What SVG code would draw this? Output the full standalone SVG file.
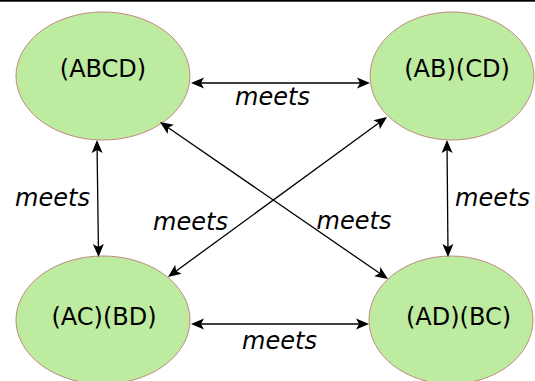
<svg xmlns="http://www.w3.org/2000/svg" width="535" height="381" viewBox="0 0 535 381">
  <defs>
    <marker id="arrow" markerUnits="userSpaceOnUse" markerWidth="16" markerHeight="12" viewBox="0 -6 16 12" refX="10" refY="0" orient="auto-start-reverse">
      <path d="M0,-5.5 L13,0 L0,5.5 L3,0 Z" fill="#000"/>
    </marker>
  </defs>
  <style>
    .node ellipse { fill: #bdeba0; stroke: #c08a80; stroke-width: 1; }
    .node text { font-family: "DejaVu Sans", sans-serif; font-size: 24px; fill: #000; text-anchor: middle; }
    .edges line { stroke: #000; stroke-width: 1.3; marker-start: url(#arrow); marker-end: url(#arrow); }
    .label { font-family: "DejaVu Sans", sans-serif; font-size: 24px; font-style: italic; fill: #000; text-anchor: middle; }
  </style>
  <rect x="0" y="0" width="535" height="1.7" fill="#000"/>

  <g id="node-abcd" class="node">
    <ellipse cx="103" cy="76" rx="87" ry="64"/>
    <text x="103" y="77">(ABCD)</text>
  </g>
  <g id="node-ab-cd" class="node">
    <ellipse cx="452" cy="76" rx="82" ry="64"/>
    <text x="457" y="77">(AB)(CD)</text>
  </g>
  <g id="node-ac-bd" class="node">
    <ellipse cx="103" cy="320" rx="87" ry="64"/>
    <text x="104" y="325">(AC)(BD)</text>
  </g>
  <g id="node-ad-bc" class="node">
    <ellipse cx="451" cy="320" rx="82" ry="64"/>
    <text x="458.5" y="325">(AD)(BC)</text>
  </g>

  <g id="connectors" class="edges">
    <line x1="194" y1="83" x2="367" y2="83"/>
    <line x1="194" y1="324" x2="366" y2="324"/>
    <line x1="97" y1="143" x2="98.5" y2="254"/>
    <line x1="447" y1="143" x2="448" y2="254"/>
    <line x1="162.5" y1="123.7" x2="385.5" y2="277.3"/>
    <line x1="384.6" y1="118.8" x2="170.4" y2="275.2"/>
  </g>

  <g id="labels">
    <text class="label" x="272.5" y="105">meets</text>
    <text class="label" x="279.5" y="349">meets</text>
    <text class="label" x="52.5" y="206">meets</text>
    <text class="label" x="492.5" y="206">meets</text>
    <text class="label" x="190.5" y="230">meets</text>
    <text class="label" x="354" y="229">meets</text>
  </g>
</svg>
